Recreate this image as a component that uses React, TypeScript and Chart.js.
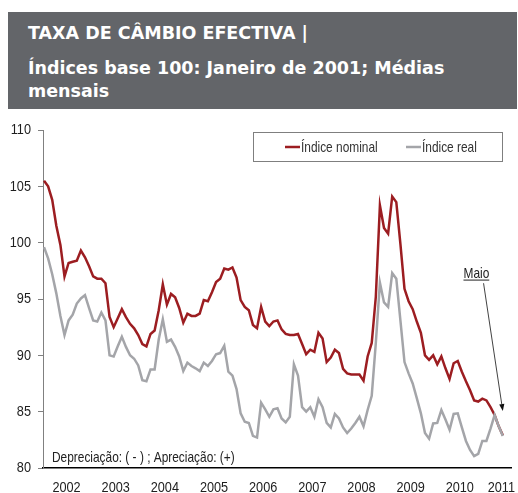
import React, { useEffect, useRef } from "react";
import { Chart, registerables } from "chart.js";

Chart.register(...registerables);

// ---- Data ----
const years = ["2002", "2003", "2004", "2005", "2006", "2007", "2008", "2009", "2010", "2011"];

// Monthly values Jan 2002 .. May 2011
const nominal = [
  105.5, 105.0, 103.8, 101.5, 99.8, 97.0, 98.2, 98.3, 98.4, 99.3, 98.7, 97.9,
  97.0, 96.8, 96.8, 96.4, 93.4, 92.5, 93.3, 94.1, 93.4, 92.8, 92.4, 91.8,
  91.0, 90.8, 91.9, 92.2, 94.0, 96.3, 94.5, 95.45, 95.15, 94.2, 92.9, 93.7,
  93.5, 93.5, 93.7, 94.9, 94.8, 95.6, 96.5, 96.8, 97.7, 97.6, 97.8, 96.9,
  94.9, 94.3, 94.0, 92.7, 92.4, 94.3, 93.0, 92.6, 93.0, 93.1, 92.3, 91.9,
  91.8, 91.8, 91.9, 91.0, 90.1, 90.5, 90.3, 92.0, 91.5, 89.4, 89.8, 90.5,
  90.2, 88.8, 88.4, 88.3, 88.3, 88.3, 87.75, 89.9, 91.1, 95.2, 103.3, 101.3,
  100.8, 104.1, 103.6, 99.9, 95.9, 94.8, 94.1, 93.0, 92.0, 90.0, 89.6, 90.0,
  89.2, 89.9, 88.85, 87.9, 89.3, 89.5, 88.55, 87.7, 86.9, 86.0, 85.9, 86.15,
  86.0, 85.4, 84.7, 83.7, 82.9,
];

const real = [
  99.6, 98.6, 97.2, 95.5, 93.5, 91.8, 93.1, 93.6, 94.6, 95.05, 95.35, 94.2,
  93.1, 93.0, 93.8, 93.1, 90.0, 89.9, 90.8, 91.65, 90.75, 90.0, 89.7, 89.1,
  87.8, 87.7, 88.75, 88.75, 91.4, 93.2, 91.2, 91.4, 90.75, 89.9, 88.6, 89.35,
  89.05, 88.85, 88.6, 89.35, 89.05, 89.5, 90.1, 90.2, 90.85, 88.55, 88.2, 87.0,
  84.85, 84.1, 84.0, 82.85, 82.7, 85.8, 85.2, 84.55, 85.2, 85.3, 84.4, 84.05,
  84.55, 89.2, 88.2, 85.4, 85.0, 85.4, 84.55, 86.1, 85.4, 84.0, 83.6, 84.8,
  84.4, 83.6, 83.1, 83.5, 84.0, 84.55, 83.7, 85.15, 86.4, 91.1, 96.45, 94.7,
  94.3, 97.3, 96.8, 93.1, 89.4, 88.4, 87.5, 86.2, 84.85, 83.1, 82.6, 83.95,
  84.0, 85.15, 84.3, 83.4, 84.8, 84.85, 83.6, 82.4, 81.6, 81.05, 81.25, 82.4,
  82.4, 83.5, 84.7, 83.7, 82.85,
];

const yMin = 80;
const yMax = 110;
const yStep = 5;

const seriesLabels = ["Índice nominal", "Índice real"];
const noteText = "Depreciação: ( - ) ; Apreciação: (+)";
const annotationText = "Maio";
const titleLines = ["TAXA DE CÂMBIO EFECTIVA |", "Índices base 100: Janeiro de 2001; Médias", "mensais"];

const RED = "#9c1d21";
const GREY = "#a4a5a9";
const BASE_FONT = "'Liberation Sans', Arial, sans-serif";
const SX = 0.82; // horizontal condensation to mimic a narrow typeface

function drawNarrow(
  ctx: CanvasRenderingContext2D,
  text: string,
  x: number,
  y: number,
  size: number,
  align: "left" | "right" | "center",
  baseline: CanvasTextBaseline,
  color: string,
  maxRight?: number
): number {
  ctx.save();
  ctx.font = `${size}px ${BASE_FONT}`;
  ctx.fillStyle = color;
  ctx.textBaseline = baseline;
  ctx.textAlign = "left";
  const w = ctx.measureText(text).width * SX;
  let left = align === "right" ? x - w : align === "center" ? x - w / 2 : x;
  if (maxRight !== undefined && left + w > maxRight) left = maxRight - w;
  ctx.translate(left, y);
  ctx.scale(SX, 1);
  ctx.fillText(text, 0, 0);
  ctx.restore();
  return w;
}

const overlayPlugin = {
  id: "overlay",
  afterDraw(chart: any) {
    const { ctx, chartArea, scales } = chart;
    const xs = scales.x;
    const ys = scales.y;
    ctx.save();

    // Axis tick labels
    ys.ticks.forEach((t: any) => {
      drawNarrow(ctx, String(t.value), xs.left - 12, ys.getPixelForValue(t.value), 15.5, "right", "middle", "#1e1e1e");
    });
    xs.ticks.forEach((t: any, k: number) => {
      drawNarrow(ctx, years[k], xs.getPixelForValue(t.value), chartArea.bottom + 12, 15.5, "center", "top", "#1e1e1e", chart.width - 3);
    });

    // Legend box
    ctx.strokeStyle = "#7f7f7f";
    ctx.lineWidth = 1;
    ctx.strokeRect(253.5, 132.5, 249, 29);
    const items = [
      { color: RED, label: seriesLabels[0], x: 285 },
      { color: GREY, label: seriesLabels[1], x: 406 },
    ];
    items.forEach((it) => {
      ctx.strokeStyle = it.color;
      ctx.lineWidth = 2.5;
      ctx.beginPath();
      ctx.moveTo(it.x, 147);
      ctx.lineTo(it.x + 15, 147);
      ctx.stroke();
      drawNarrow(ctx, it.label, it.x + 16, 148, 14.5, "left", "middle", "#333");
    });

    // Note text
    drawNarrow(ctx, noteText, chartArea.left + 9, chartArea.bottom - 6, 14.5, "left", "alphabetic", "#222");

    // "Maio" annotation
    const mx = xs.getPixelForValue(102.4);
    const my = ys.getPixelForValue(96.9);
    const w = drawNarrow(ctx, annotationText, mx, my, 14.5, "left", "alphabetic", "#222");
    ctx.strokeStyle = "#222";
    ctx.lineWidth = 1;
    ctx.beginPath();
    ctx.moveTo(mx, my + 2.5);
    ctx.lineTo(mx + w, my + 2.5);
    ctx.stroke();

    // Arrow
    const x0 = xs.getPixelForValue(107.3);
    const y0 = ys.getPixelForValue(96.4);
    const x1 = xs.getPixelForValue(112);
    const y1 = ys.getPixelForValue(85.05);
    const ang = Math.atan2(y1 - y0, x1 - x0);
    const hl = 7;
    const hw = 2.6;
    const bx = x1 - hl * Math.cos(ang);
    const by = y1 - hl * Math.sin(ang);
    ctx.strokeStyle = "#111";
    ctx.lineWidth = 0.8;
    ctx.beginPath();
    ctx.moveTo(x0, y0);
    ctx.lineTo(bx, by);
    ctx.stroke();
    ctx.fillStyle = "#111";
    ctx.beginPath();
    ctx.moveTo(x1, y1);
    ctx.lineTo(bx + hw * Math.sin(ang), by - hw * Math.cos(ang));
    ctx.lineTo(bx - hw * Math.sin(ang), by + hw * Math.cos(ang));
    ctx.closePath();
    ctx.fill();

    ctx.restore();
  },
};

export default function App() {
  const canvasRef = useRef<HTMLCanvasElement | null>(null);

  useEffect(() => {
    const canvas = canvasRef.current;
    if (!canvas) return;
    const chart = new Chart(canvas, {
      type: "line",
      data: {
        datasets: [
          {
            label: seriesLabels[0],
            data: nominal.map((v, i) => ({ x: i, y: v })),
            borderColor: RED,
            backgroundColor: RED,
            borderWidth: 2.5,
            pointRadius: 0,
            tension: 0,
            order: 1,
          },
          {
            label: seriesLabels[1],
            data: real.map((v, i) => ({ x: i, y: v })),
            borderColor: GREY,
            backgroundColor: GREY,
            borderWidth: 2.5,
            pointRadius: 0,
            tension: 0,
            order: 0,
          },
        ],
      },
      options: {
        animation: false,
        responsive: false,
        maintainAspectRatio: false,
        devicePixelRatio: 1,
        layout: { padding: { top: 130, left: 0, right: 7, bottom: 0 } },
        plugins: {
          legend: { display: false },
          tooltip: { enabled: false },
        },
        scales: {
          x: {
            type: "linear",
            min: -0.25,
            max: 114,
            afterBuildTicks: (scale: any) => {
              scale.ticks = years.map((_, k) => ({ value: k * 12 + 5.5 }));
            },
            afterFit: (scale: any) => {
              scale.height = 42;
            },
            ticks: { display: false, autoSkip: false, maxRotation: 0 },
            grid: { display: true, drawOnChartArea: false, drawTicks: false, color: "#000" },
            border: { display: true, color: "#000", width: 1.5 },
          },
          y: {
            min: yMin,
            max: yMax,
            afterFit: (scale: any) => {
              scale.width = 43;
            },
            ticks: { display: false, stepSize: yStep },
            grid: { drawOnChartArea: false, drawTicks: true, tickLength: 5, color: "#808080" },
            border: { display: true, color: "#808080", width: 1 },
          },
        },
      },
      plugins: [overlayPlugin],
    } as any);
    return () => chart.destroy();
  }, []);

  const lineStyle: React.CSSProperties = {
    position: "absolute",
    left: 20,
    whiteSpace: "nowrap",
    color: "#fff",
    fontFamily: "'DejaVu Sans', sans-serif",
    fontWeight: 700,
    fontSize: 17.5,
    lineHeight: "20px",
  };
  const lineTops = [10.5, 46, 69];

  return (
    <div
      style={{
        position: "fixed",
        left: 0,
        top: 0,
        width: 518,
        height: 493,
        overflow: "hidden",
        background: "#fff",
      }}
    >
      <div
        style={{
          position: "absolute",
          left: 8,
          top: 12,
          width: 509,
          height: 97,
          background: "#636569",
        }}
      >
        {titleLines.map((t, i) => (
          <div key={i} style={{ ...lineStyle, top: lineTops[i] }}>
            {t}
          </div>
        ))}
      </div>
      <canvas
        ref={canvasRef}
        width={518}
        height={510}
        style={{ position: "absolute", left: 0, top: 0, width: 518, height: 510 }}
      />
    </div>
  );
}
